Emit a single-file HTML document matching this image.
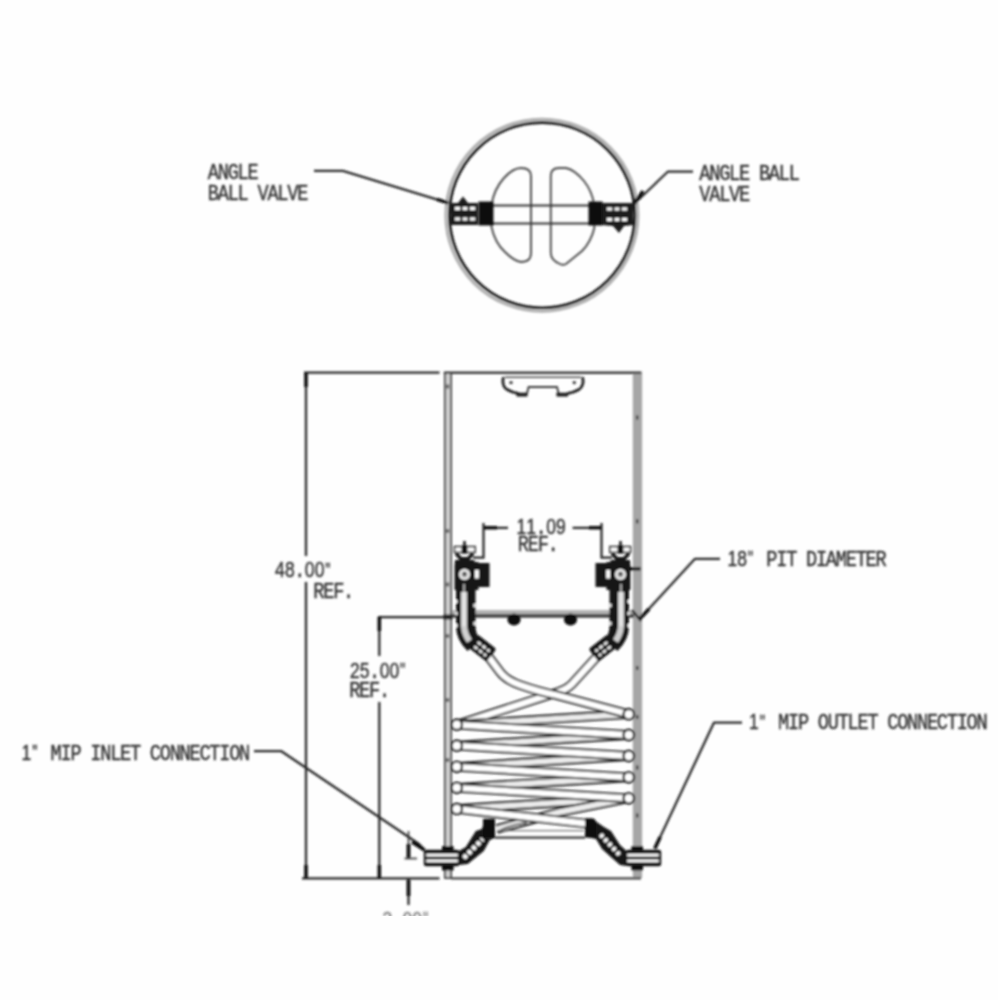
<!DOCTYPE html>
<html lang="en">
<head>
<meta charset="utf-8">
<title>Drawing</title>
<style>
html,body{margin:0;padding:0;background:#fefefe;}
body{width:998px;height:1000px;overflow:hidden;}
svg{display:block;}
text{font-family:"Liberation Mono","DejaVu Sans Mono",monospace;fill:#303030;stroke:#303030;stroke-width:0.4px;}
text .d{font-family:"Liberation Sans","DejaVu Sans",sans-serif;font-size:21.6px;}
text .q{font-size:15px;}
</style>
</head>
<body>
<svg width="998" height="1000" viewBox="0 0 998 1000">
<defs>
<filter id="soft" x="-2%" y="-2%" width="104%" height="104%"><feGaussianBlur stdDeviation="0.9"/></filter>
<clipPath id="crop"><rect x="0" y="0" width="998" height="915.8"/></clipPath>
</defs>
<rect width="998" height="1000" fill="#fefefe"/>
<g clip-path="url(#crop)"><g filter="url(#soft)">
<circle cx="541.9" cy="215.2" r="96.10000000000001" fill="none" stroke="#adadad" stroke-width="2.8"/>
<circle cx="542.1" cy="215.2" r="92.7" fill="none" stroke="#1c1c1c" stroke-width="2.9"/>
<path d="M531 176 Q531 168 521 168 Q513 168 504 178 Q494 189 491.5 205 L491.5 227 Q495 243 505 252 Q514 261 521 262 Q531 262 531 253 Z" fill="none" stroke="#4a4a4a" stroke-width="1.9" />
<path d="M550.8 176 Q550.8 168 559 168 L566 168 Q575 170 584 181 Q592 191 594.3 205 L594.3 228 Q591 242 582 251 L566 264 Q563 265.5 560 264 Q550.8 260 550.8 253 Z" fill="none" stroke="#4a4a4a" stroke-width="1.9" />
<path d="M493 205.6H589 M493 223.4H589" fill="none" stroke="#333" stroke-width="2.0" />
<rect x="478.5" y="201.5" width="15" height="24" fill="#111"/>
<path d="M451 203 L458 203 L463 196.5 L468 203 L478 203 L478 225 L451 225 Z" fill="#1a1a1a"/>
<path d="M455 208.5H475 M455 219H475" stroke="#fff" stroke-width="3" stroke-dasharray="5 2.5"/>
<rect x="588.5" y="201.5" width="14" height="24" fill="#111"/>
<path d="M602 203 L633 203 L633 225 L624 226 L619 233 L613 226 L602 225 Z" fill="#1a1a1a"/>
<path d="M607 209H629 M607 219.5H629" stroke="#fff" stroke-width="3" stroke-dasharray="5 2.5"/>
<path d="M314 170.8 H343 L448 202.8" fill="none" stroke="#262626" stroke-width="2.25" />
<path d="M693 171.5 H668 L634 204" fill="none" stroke="#262626" stroke-width="2.25" />
<path d="M634 204 L643 191" fill="none" stroke="#111" stroke-width="3.4" />
<path d="M448 202.8 L437 199.3" fill="none" stroke="#111" stroke-width="3.4" />
<text transform="translate(208.5 178.5) scale(0.810 1)" font-size="23.0" text-anchor="middle" x="6.12 18.37 30.62 42.86 55.11" y="0 0 0 0 0" xml:space="preserve">ANGLE</text>
<text transform="translate(208.5 200.0) scale(0.810 1)" font-size="23.0" text-anchor="middle" x="6.12 18.37 30.62 42.86 55.11 67.36 79.60 91.85 104.10 116.35" y="0 0 0 0 0 0 0 0 0 0" xml:space="preserve">BALL VALVE</text>
<text transform="translate(700.0 180.3) scale(0.810 1)" font-size="23.0" text-anchor="middle" x="6.12 18.37 30.62 42.86 55.11 67.36 79.60 91.85 104.10 116.35" y="0 0 0 0 0 0 0 0 0 0" xml:space="preserve">ANGLE BALL</text>
<text transform="translate(700.0 201.2) scale(0.810 1)" font-size="23.0" text-anchor="middle" x="6.12 18.37 30.62 42.86 55.11" y="0 0 0 0 0" xml:space="preserve">VALVE</text>
<rect x="445" y="373" width="6" height="505" fill="#cfcfcf" stroke="#4a4a4a" stroke-width="2.0"/>
<rect x="632.8" y="373" width="9.3" height="505" fill="#a6a6a6"/>
<path d="M443.8 372.7 H641.5" fill="none" stroke="#3a3a3a" stroke-width="2.5" />
<path d="M451 878.3 H641" fill="none" stroke="#444" stroke-width="2.2" />
<path d="M447.8 384.5 v4" fill="none" stroke="#333" stroke-width="2.2" />
<path d="M447.8 529 v4" fill="none" stroke="#333" stroke-width="2.2" />
<path d="M447.8 582.5 v4" fill="none" stroke="#333" stroke-width="2.2" />
<path d="M447.8 634 v4" fill="none" stroke="#333" stroke-width="2.2" />
<path d="M447.8 698 v4" fill="none" stroke="#333" stroke-width="2.2" />
<path d="M447.8 758 v4" fill="none" stroke="#333" stroke-width="2.2" />
<path d="M637.2 415.5 v4" fill="none" stroke="#333" stroke-width="2.2" />
<path d="M637.2 519.3 v4" fill="none" stroke="#333" stroke-width="2.2" />
<path d="M637.2 666 v4" fill="none" stroke="#333" stroke-width="2.2" />
<path d="M637.2 715 v4" fill="none" stroke="#333" stroke-width="2.2" />
<path d="M637.2 765.5 v4" fill="none" stroke="#333" stroke-width="2.2" />
<path d="M637.2 813.5 v4" fill="none" stroke="#333" stroke-width="2.2" />
<path d="M505 377.2 H581" fill="none" stroke="#4a4a4a" stroke-width="1.6" />
<path d="M503.2 378 Q501.8 386 507 389.5 Q512 392.5 518 393.3" fill="none" stroke="#1c1c1c" stroke-width="2.7" stroke-linecap="round"/>
<path d="M582.8 378 Q584.2 386 579 389.5 Q574 392.5 568 393.3" fill="none" stroke="#1c1c1c" stroke-width="2.7" stroke-linecap="round"/>
<path d="M526.8 394 L528.6 387 H557 L558.8 394" fill="none" stroke="#3a3a3a" stroke-width="1.9" />
<path d="M516.5 394.6 H527.5 M556.5 394.6 H568" fill="none" stroke="#1a1a1a" stroke-width="3.8" />
<circle cx="511" cy="382.6" r="1.7" fill="#333"/><circle cx="574.3" cy="382.6" r="1.7" fill="#333"/>
<path d="M306 373 V556 M306 582 V878.3" fill="none" stroke="#262626" stroke-width="2.25" />
<path d="M304 372.6 H439.5" fill="none" stroke="#262626" stroke-width="2.25" />
<path d="M302 878.3 H439.5" fill="none" stroke="#262626" stroke-width="2.25" />
<path d="M306 373 V387" fill="none" stroke="#111" stroke-width="3.6" />
<path d="M306 865 V878" fill="none" stroke="#111" stroke-width="3.6" />
<text transform="translate(275.0 577.4) scale(0.810 1)" font-size="23.0" text-anchor="middle" x="6.12 18.37 30.62 42.86 55.11 65.38" y="0 0 0 0 0 -3.8" xml:space="preserve"><tspan class="d">48</tspan>.<tspan class="d">00</tspan><tspan class="q">&quot;</tspan></text>
<text transform="translate(314.0 598.3) scale(0.810 1)" font-size="23.0" text-anchor="middle" x="6.12 18.37 30.62 42.86" y="0 0 0 0" xml:space="preserve">REF.</text>
<path d="M379.3 617 V656 M379.3 702 V878" fill="none" stroke="#262626" stroke-width="2.25" />
<path d="M378 617 H452" fill="none" stroke="#262626" stroke-width="2.25" />
<path d="M379.3 617 V631" fill="none" stroke="#111" stroke-width="3.6" />
<path d="M379.3 865 V878" fill="none" stroke="#111" stroke-width="3.6" />
<text transform="translate(349.8 677.5) scale(0.810 1)" font-size="23.0" text-anchor="middle" x="6.12 18.37 30.62 42.86 55.11 65.38" y="0 0 0 0 0 -3.8" xml:space="preserve"><tspan class="d">25</tspan>.<tspan class="d">00</tspan><tspan class="q">&quot;</tspan></text>
<text transform="translate(349.8 696.8) scale(0.810 1)" font-size="23.0" text-anchor="middle" x="6.12 18.37 30.62 42.86" y="0 0 0 0" xml:space="preserve">REF.</text>
<path d="M483.5 523 V557.5 H473 M601.5 523 V557.5 H612" fill="none" stroke="#262626" stroke-width="2.25" />
<path d="M483.3 527.8 H508 M572.6 527.8 H601.5" fill="none" stroke="#262626" stroke-width="2.25" />
<path d="M484 527.8 H497 M589 527.8 H601" fill="none" stroke="#111" stroke-width="3.4" />
<text transform="translate(516.3 533.8) scale(0.810 1)" font-size="23.0" text-anchor="middle" x="6.12 18.37 30.62 42.86 55.11" y="0 0 0 0 0" xml:space="preserve"><tspan class="d">11</tspan>.<tspan class="d">09</tspan></text>
<text transform="translate(518.5 551.0) scale(0.810 1)" font-size="23.0" text-anchor="middle" x="6.12 18.37 30.62 42.86" y="0 0 0 0" xml:space="preserve">REF.</text>
<path d="M408.5 878 V905" fill="none" stroke="#262626" stroke-width="2.25" />
<path d="M408.5 880 V896" fill="none" stroke="#111" stroke-width="3.8" />
<path d="M408.5 831 V858" fill="none" stroke="#444" stroke-width="1.8" />
<path d="M408.5 844 V858.5" fill="none" stroke="#111" stroke-width="3.8" />
<path d="M404.5 858.5 H417" fill="none" stroke="#444" stroke-width="1.8" />
<g opacity="0.62">
<text transform="translate(382.5 927.2) scale(0.810 1)" font-size="23.0" text-anchor="middle" x="6.12 18.37 30.62 42.86 53.14" y="0 0 0 0 -3.8" xml:space="preserve"><tspan class="d">3</tspan>.<tspan class="d">00</tspan><tspan class="q">&quot;</tspan></text>
</g>
<path d="M597.5 656 L572 684 Q566.5 690 552 694 L456.8 724.7" fill="none" stroke="#303030" stroke-width="9.8" />
<path d="M597.5 656 L572 684 Q566.5 690 552 694 L456.8 724.7" fill="none" stroke="#fff" stroke-width="5.800000000000001" />
<path d="M456.8 724.7 L628.8 714.2" fill="none" stroke="#2a2a2a" stroke-width="9.8" />
<path d="M456.8 724.7 L628.8 714.2" fill="none" stroke="#ececec" stroke-width="5.4" />
<path d="M456.8 745.7 L628.8 735.0" fill="none" stroke="#2a2a2a" stroke-width="9.8" />
<path d="M456.8 745.7 L628.8 735.0" fill="none" stroke="#ececec" stroke-width="5.4" />
<path d="M456.8 766.8 L628.8 756.0" fill="none" stroke="#2a2a2a" stroke-width="9.8" />
<path d="M456.8 766.8 L628.8 756.0" fill="none" stroke="#ececec" stroke-width="5.4" />
<path d="M456.8 787.8 L628.8 777.3" fill="none" stroke="#2a2a2a" stroke-width="9.8" />
<path d="M456.8 787.8 L628.8 777.3" fill="none" stroke="#ececec" stroke-width="5.4" />
<path d="M456.8 808.9 L628.8 798.3" fill="none" stroke="#2a2a2a" stroke-width="9.8" />
<path d="M456.8 808.9 L628.8 798.3" fill="none" stroke="#ececec" stroke-width="5.4" />
<path d="M628.8 798.3 L560 812 L497 829" fill="none" stroke="#2a2a2a" stroke-width="9.8" />
<path d="M628.8 798.3 L560 812 L497 829" fill="none" stroke="#ececec" stroke-width="5.4" />
<path d="M488 656 L500 672 Q506 680 520 685 Q540 692 556 695 L628.8 714.2" fill="none" stroke="#303030" stroke-width="9.8" />
<path d="M488 656 L500 672 Q506 680 520 685 Q540 692 556 695 L628.8 714.2" fill="none" stroke="#fff" stroke-width="5.800000000000001" />
<path d="M456.8 724.7 L628.8 735.0" fill="none" stroke="#303030" stroke-width="9.8" />
<path d="M456.8 724.7 L628.8 735.0" fill="none" stroke="#fff" stroke-width="5.800000000000001" />
<path d="M456.8 745.7 L628.8 756.0" fill="none" stroke="#303030" stroke-width="9.8" />
<path d="M456.8 745.7 L628.8 756.0" fill="none" stroke="#fff" stroke-width="5.800000000000001" />
<path d="M456.8 766.8 L628.8 777.3" fill="none" stroke="#303030" stroke-width="9.8" />
<path d="M456.8 766.8 L628.8 777.3" fill="none" stroke="#fff" stroke-width="5.800000000000001" />
<path d="M456.8 787.8 L628.8 798.3" fill="none" stroke="#303030" stroke-width="9.8" />
<path d="M456.8 787.8 L628.8 798.3" fill="none" stroke="#fff" stroke-width="5.800000000000001" />
<path d="M456.8 808.9 L585.5 823.5" fill="none" stroke="#303030" stroke-width="9.8" />
<path d="M456.8 808.9 L585.5 823.5" fill="none" stroke="#fff" stroke-width="5.800000000000001" />
<circle cx="456.8" cy="724.7" r="5.199999999999999" fill="#fff" stroke="#222" stroke-width="2.4"/>
<circle cx="628.8" cy="714.2" r="5.199999999999999" fill="#fff" stroke="#222" stroke-width="2.4"/>
<circle cx="456.8" cy="745.7" r="5.199999999999999" fill="#fff" stroke="#222" stroke-width="2.4"/>
<circle cx="628.8" cy="735.0" r="5.199999999999999" fill="#fff" stroke="#222" stroke-width="2.4"/>
<circle cx="456.8" cy="766.8" r="5.199999999999999" fill="#fff" stroke="#222" stroke-width="2.4"/>
<circle cx="628.8" cy="756.0" r="5.199999999999999" fill="#fff" stroke="#222" stroke-width="2.4"/>
<circle cx="456.8" cy="787.8" r="5.199999999999999" fill="#fff" stroke="#222" stroke-width="2.4"/>
<circle cx="628.8" cy="777.3" r="5.199999999999999" fill="#fff" stroke="#222" stroke-width="2.4"/>
<circle cx="456.8" cy="808.9" r="5.199999999999999" fill="#fff" stroke="#222" stroke-width="2.4"/>
<circle cx="628.8" cy="798.3" r="5.199999999999999" fill="#fff" stroke="#222" stroke-width="2.4"/>
<rect x="452" y="610" width="182" height="4.2" fill="#b2b2b2"/>
<rect x="452" y="614" width="182" height="3.8" fill="#4a4a4a"/>
<ellipse cx="514" cy="619.5" rx="6.6" ry="6" fill="#111"/><ellipse cx="570.5" cy="619.5" rx="6.6" ry="6" fill="#111"/>
<g transform="translate(464.5 0) scale(1 1)"><path d="M-9.5 560 H-4 L-3 557 H3 L4 560 H10 V562 H14 V563 H25 V587 H14 V590 H11 V626 Q11 634 16 640 L3 651 Q-8.5 640 -8.5 626 V590 H-10 V566 Z" fill="#161616"/><path d="M0 541 V547" stroke="#222" stroke-width="2.6" fill="none"/><rect x="-10" y="546.6" width="20.5" height="5.8" fill="#fff" stroke="#262626" stroke-width="1.7"/><rect x="-3" y="545.5" width="6" height="8" rx="1.5" fill="#111"/><path d="M-8.5 553.5 L-1 561.5 M8.5 553.5 L1 561.5" stroke="#161616" stroke-width="3.6" fill="none"/><circle cx="0" cy="574.4" r="4.4" fill="#aaa" stroke="#fff" stroke-width="2"/><circle cx="0" cy="574" r="1.7" fill="#222"/><rect x="10.5" y="570" width="3.8" height="8.5" fill="#fff"/><path d="M-0.5 592 V626 Q0 634 5 641" stroke="#d0d0d0" stroke-width="6" fill="none"/><path d="M-0.5 584 V626" stroke="#fff" stroke-width="1.2" fill="none"/><path d="M-8 600 v3 M-8 612 v3 M-8 624 v3 M10 604 v3 M10 622 v3" stroke="#fff" stroke-width="2"/><g transform="translate(17.5 648) rotate(38)"><rect x="-12" y="-8" width="24" height="16" rx="2" fill="#161616"/><path d="M-7 -2 H8 M-7 3.5 H8" stroke="#fff" stroke-width="2.4" stroke-dasharray="4 2"/></g></g>
<g transform="translate(620.5 0) scale(-1 1)"><path d="M-9.5 560 H-4 L-3 557 H3 L4 560 H10 V562 H14 V563 H25 V587 H14 V590 H11 V626 Q11 634 16 640 L3 651 Q-8.5 640 -8.5 626 V590 H-10 V566 Z" fill="#161616"/><path d="M0 541 V547" stroke="#222" stroke-width="2.6" fill="none"/><rect x="-10" y="546.6" width="20.5" height="5.8" fill="#fff" stroke="#262626" stroke-width="1.7"/><rect x="-3" y="545.5" width="6" height="8" rx="1.5" fill="#111"/><path d="M-8.5 553.5 L-1 561.5 M8.5 553.5 L1 561.5" stroke="#161616" stroke-width="3.6" fill="none"/><circle cx="0" cy="574.4" r="4.4" fill="#aaa" stroke="#fff" stroke-width="2"/><circle cx="0" cy="574" r="1.7" fill="#222"/><rect x="10.5" y="570" width="3.8" height="8.5" fill="#fff"/><path d="M-0.5 592 V626 Q0 634 5 641" stroke="#d0d0d0" stroke-width="6" fill="none"/><path d="M-0.5 584 V626" stroke="#fff" stroke-width="1.2" fill="none"/><path d="M-8 600 v3 M-8 612 v3 M-8 624 v3 M10 604 v3 M10 622 v3" stroke="#fff" stroke-width="2"/><g transform="translate(17.5 648) rotate(38)"><rect x="-12" y="-8" width="24" height="16" rx="2" fill="#161616"/><path d="M-7 -2 H8 M-7 3.5 H8" stroke="#fff" stroke-width="2.4" stroke-dasharray="4 2"/></g></g>
<path d="M443.5 617 h9" fill="none" stroke="#222" stroke-width="5" />
<path d="M720 558.8 H695 L640 618.5" fill="none" stroke="#262626" stroke-width="2.25" stroke-linejoin="round"/>
<path d="M640 618.5 L649 609" fill="none" stroke="#111" stroke-width="3.6" />
<path d="M632 610 L641 621" fill="none" stroke="#111" stroke-width="2.2" />
<path d="M629 568.8 H640.5" fill="none" stroke="#111" stroke-width="3.3" />
<text transform="translate(727.3 565.9) scale(0.810 1)" font-size="23.0" text-anchor="middle" x="6.12 18.37 28.64 42.86 55.11 67.36 79.60 91.85 104.10 116.35 128.59 140.84 153.09 165.33 177.58 189.83" y="0 0 -3.8 0 0 0 0 0 0 0 0 0 0 0 0 0" xml:space="preserve"><tspan class="d">18</tspan><tspan class="q">&quot;</tspan> PIT DIAMETER</text>
<g transform="translate(447.8 0) scale(1 1)"><path d="M-5.8 846 H5.8 V850 H-5.8 Z M-5.8 865 H5.8 V870.5 H-5.8 Z" fill="#111"/><rect x="-24" y="849.8" width="35.5" height="16.4" rx="2.5" fill="#161616"/><path d="M-21.5 855.2 H10 M-21.5 860.8 H10" stroke="#fff" stroke-width="2.8"/></g>
<g transform="translate(637.2 0) scale(-1 1)"><path d="M-5.8 846 H5.8 V850 H-5.8 Z M-5.8 865 H5.8 V870.5 H-5.8 Z" fill="#111"/><rect x="-24" y="849.8" width="35.5" height="16.4" rx="2.5" fill="#161616"/><path d="M-21.5 855.2 H10 M-21.5 860.8 H10" stroke="#fff" stroke-width="2.8"/></g>
<path d="M458.8 851 L465.8 847 L475.8 831 L481.8 829 L484.8 821 L494.8 821 L494.8 838 L489.8 840 L483.8 851 L467.8 864 L458.8 865 Z" fill="#161616"/>
<path d="M463.8 858 L482.8 839" stroke="#fff" stroke-width="4.5" stroke-dasharray="4 2.2"/>
<rect x="483" y="818.8" width="12" height="18.6" fill="#111"/>
<path d="M626.5 851 L620 845 L611 831 L604 827 L596 821.5 L586 821.5 L586 837 L596 839 L602 849 L612 858 L620 865 L626.5 866 Z" fill="#161616"/>
<path d="M600.5 834.5 L621 856.5" stroke="#fff" stroke-width="4.2" stroke-dasharray="3.6 2.4"/>
<path d="M585 818.3 H592 Q596 818.6 596 823 V837.6 H585 Z" fill="#111"/>
<path d="M495 837.6 H585" fill="none" stroke="#3a3a3a" stroke-width="2.4" />
<path d="M497 832 Q510 824.5 527 822.5" fill="none" stroke="#444" stroke-width="1.7" />
<path d="M497 830.6 H584" fill="none" stroke="#777" stroke-width="1.3" />
<path d="M254 751 H281 L419 844 L424.5 850" fill="none" stroke="#262626" stroke-width="2.25" stroke-linejoin="round"/>
<path d="M742 722.5 H714 L654.8 848.5" fill="none" stroke="#262626" stroke-width="2.25" stroke-linejoin="round"/>
<path d="M654.8 848.5 L660.2 837" fill="none" stroke="#111" stroke-width="3.6" />
<path d="M424.5 850 L412 842" fill="none" stroke="#111" stroke-width="3.4" />
<text transform="translate(21.5 759.5) scale(0.810 1)" font-size="23.0" text-anchor="middle" x="6.12 16.40 30.62 42.86 55.11 67.36 79.60 91.85 104.10 116.35 128.59 140.84 153.09 165.33 177.58 189.83 202.07 214.32 226.57 238.81 251.06 263.31 275.56" y="0 -3.8 0 0 0 0 0 0 0 0 0 0 0 0 0 0 0 0 0 0 0 0 0" xml:space="preserve"><tspan class="d">1</tspan><tspan class="q">&quot;</tspan> MIP INLET CONNECTION</text>
<text transform="translate(749.0 729.3) scale(0.810 1)" font-size="23.0" text-anchor="middle" x="6.12 16.40 30.62 42.86 55.11 67.36 79.60 91.85 104.10 116.35 128.59 140.84 153.09 165.33 177.58 189.83 202.07 214.32 226.57 238.81 251.06 263.31 275.56 287.80" y="0 -3.8 0 0 0 0 0 0 0 0 0 0 0 0 0 0 0 0 0 0 0 0 0 0" xml:space="preserve"><tspan class="d">1</tspan><tspan class="q">&quot;</tspan> MIP OUTLET CONNECTION</text>
</g></g>
</svg>
</body>
</html>
